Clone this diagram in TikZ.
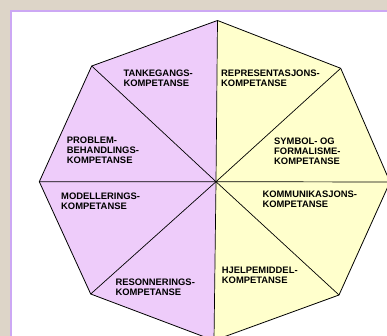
\documentclass[tikz,border=0pt]{standalone}
\usepackage{fontspec}
\setmainfont{Liberation Sans}
\definecolor{bgbeige}{HTML}{DDD5C8}
\definecolor{frameviolet}{HTML}{CCA8F4}
\definecolor{lilac}{HTML}{EECCFA}
\definecolor{paleyellow}{HTML}{FFFFCC}
\begin{document}
\begin{tikzpicture}[x=1pt,y=-1pt,
  lbl/.style={anchor=north west,inner sep=0pt,align=left,
    font=\fontsize{9.4}{10}\selectfont\bfseries},
  spoke/.style={draw=black,line width=0.7pt},
  rim/.style={draw=black,line width=0.8pt,line join=round}]
\useasboundingbox (0,0) rectangle (387,336);
\clip (0,0) rectangle (387,336);
\fill[bgbeige] (0,0) rectangle (387,336);
\draw[fill=white,draw=frameviolet,line width=2.2pt] (11,11) rectangle (400,350);
% vertices
\coordinate (C) at (216,181.7);
\coordinate (T) at (217.5,20.5);
\coordinate (TR) at (340.7,68.3);
\coordinate (R) at (390,182);
\coordinate (BR) at (339,295);
\coordinate (B) at (214,340.5);
\coordinate (BL) at (90.7,294);
\coordinate (L) at (39.3,181.7);
\coordinate (TL) at (91.7,66);
% halves
\fill[lilac] (C) -- (T) -- (TL) -- (L) -- (BL) -- (B) -- cycle;
\fill[paleyellow] (C) -- (T) -- (TR) -- (R) -- (BR) -- (B) -- cycle;
% spokes
\draw[spoke] (T) -- (C) -- (B);
\draw[spoke] (TL) -- (C) -- (BR);
\draw[spoke] (L) -- (C) -- (R);
\draw[spoke] (BL) -- (C) -- (TR);
% rim
\draw[rim] (T) -- (TR) -- (R) -- (BR) -- (B) -- (BL) -- (L) -- (TL) -- cycle;
% labels
\node[lbl] (tank) at (123.3,69.3) {TANKEGANGS-\\KOMPETANSE};
\node[lbl] (repr) at (221,69.3) {REPRESENTASJONS-\\KOMPETANSE};
\node[lbl] (prob) at (66.7,136.7) {PROBLEM-\\BEHANDLINGS-\\KOMPETANSE};
\node[lbl] (symb) at (274,137.7) {SYMBOL- OG\\FORMALISME-\\KOMPETANSE};
\node[lbl] (mode) at (61,192.7) {MODELLERINGS-\\KOMPETANSE};
\node[lbl] (komm) at (262.3,191) {KOMMUNIKASJONS-\\KOMPETANSE};
\node[lbl] (reso) at (115.3,278.3) {RESONNERINGS-\\KOMPETANSE};
\node[lbl] (hjel) at (221.7,266.7) {HJELPEMIDDEL-\\KOMPETANSE};
\end{tikzpicture}
\end{document}
